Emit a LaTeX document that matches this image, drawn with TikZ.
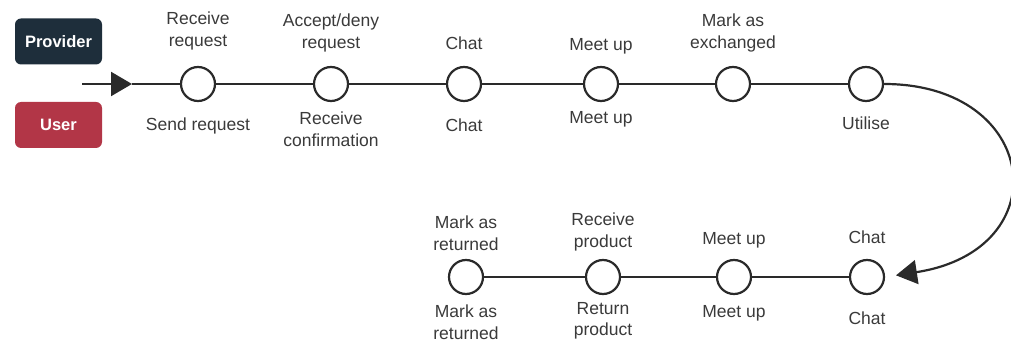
\documentclass[tikz,border=0pt]{standalone}
\usepackage{fontspec}
\setmainfont{Liberation Sans}
\usetikzlibrary{arrows.meta}

\definecolor{providerc}{HTML}{1E2E3B}
\definecolor{userc}{HTML}{B23647}
\definecolor{inkc}{HTML}{2A2A2A}
\definecolor{txtc}{HTML}{3A3A3A}

\begin{document}
\begin{tikzpicture}[x=1pt,y=-1pt,
  role/.style={rectangle, rounded corners=6pt, minimum width=87pt, minimum height=46pt,
    text=white, font=\fontsize{16.5}{19}\selectfont\bfseries, inner sep=0pt},
  stage/.style={circle, draw=inkc, line width=2.2pt, fill=white, minimum size=34pt, inner sep=0pt},
  flow/.style={draw=inkc, line width=2.2pt},
  tipped/.style={flow, -{Triangle[length=21pt,width=24pt]}},
  lbl/.style={text=txtc, align=center, font=\fontsize{17.5}{21.5}\selectfont, inner sep=0pt}]

\useasboundingbox (0,0) rectangle (1011,347);

% roles
\node[role, fill=providerc] (provider) at (58.5,41.5) {Provider};
\node[role, fill=userc] (user) at (58.5,125) {User};

% first row of stages
\node[stage] (c1) at (198,84) {};
\node[stage] (c2) at (331,84) {};
\node[stage] (c3) at (464,84) {};
\node[stage] (c4) at (601,84) {};
\node[stage] (c5) at (733,84) {};
\node[stage] (c6) at (866,84) {};

% second row of stages
\node[stage] (d1) at (466,277) {};
\node[stage] (d2) at (603,277) {};
\node[stage] (d3) at (734,277) {};
\node[stage] (d4) at (867,277) {};

% entry arrow
\coordinate (start) at (82,84);
\coordinate (entry) at (132,84);
\draw[tipped] (start) -- (entry);
\draw[flow] (entry) -- (c1);

% first row links
\draw[flow] (c1) -- (c2) (c2) -- (c3) (c3) -- (c4) (c4) -- (c5) (c5) -- (c6);

% return curve
\draw[tipped, shorten >=11pt] (c6.east) .. controls (1040,84) and (1060,250) .. (d4.east);

% second row links
\draw[flow] (d4) -- (d3) (d3) -- (d2) (d2) -- (d1);

% provider steps (above)
\node[lbl] (p1) at (198,31) {Receive\\request};
\node[lbl] (p2) at (331,33) {Accept/deny\\request};
\node[lbl] (p3) at (464,43) {Chat};
\node[lbl] (p4) at (601,46) {Meet up};
\node[lbl] (p5) at (733,33) {Mark as\\exchanged};

% user steps (below)
\node[lbl] (u1) at (198,126) {Send request};
\node[lbl] (u2) at (331,129) {Receive\\confirmation};
\node[lbl] (u3) at (464,125) {Chat};
\node[lbl] (u4) at (601,119) {Meet up};
\node[lbl] (u6) at (866,123) {Utilise};

% provider steps, second row
\node[lbl] (q1) at (466,233) {Mark as\\returned};
\node[lbl] (q2) at (603,232) {Receive\\product};
\node[lbl] (q3) at (734,240) {Meet up};
\node[lbl] (q4) at (867,237) {Chat};

% user steps, second row
\node[lbl] (v1) at (466,322) {Mark as\\returned};
\node[lbl] (v2) at (603,321) {Return\\product};
\node[lbl] (v3) at (734,313) {Meet up};
\node[lbl] (v4) at (867,318) {Chat};

\end{tikzpicture}
\end{document}
